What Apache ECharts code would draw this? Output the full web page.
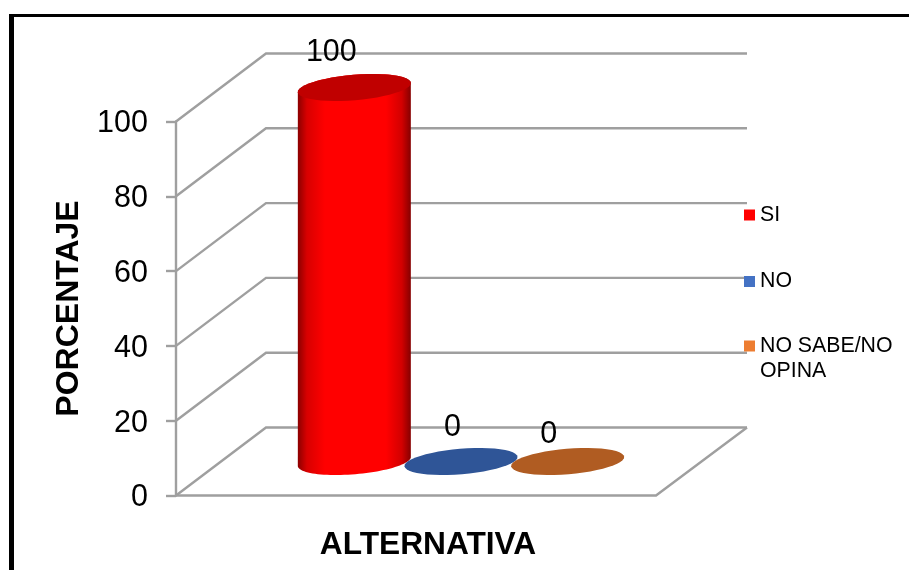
<!DOCTYPE html>
<html>
<head>
<meta charset="utf-8">
<style>html,body{margin:0;padding:0;background:#fff}#c{width:909px;height:570px}</style>
<script src="https://cdn.jsdelivr.net/npm/echarts@6/dist/echarts.min.js"></script>
</head>
<body>
<div id="c"></div>
<script>
const categories = ['SI', 'NO', 'NO SABE/NO OPINA'];
const values = [100, 0, 0];
const yTicks = [0, 20, 40, 60, 80, 100];
const yTitle = 'PORCENTAJE';
const xTitle = 'ALTERNATIVA';
const legendColors = ['#ff0000', '#4472c4', '#ed7d31'];
const capColors = ['#c00000', '#2f5597', '#b05c22'];
const labelOffsets = [[-23, -34.5], [-8.5, -34], [-19, -26.5]];
const legendTops = [202.5, 269, 308.5];
const legendLabels = ['SI', 'NO', '\nNO SABE/NO\nOPINA'];

const FONT = '"Liberation Sans", Arial, sans-serif';
const GRID_COLOR = '#9f9f9f';
const DEPTH_X = 90, DEPTH_Y = 68, LEFT_X = 176, FRONT_RIGHT = 656, BACK_RIGHT = 747;
const A = 56.7, B = 12.7, TILT = 4.8 * Math.PI / 180;

function ellipsePoint(cx, cy, t) {
  const ex = A * Math.cos(t), ey = B * Math.sin(t);
  return [cx + ex * Math.cos(TILT) - ey * Math.sin(TILT),
          cy - ex * Math.sin(TILT) - ey * Math.cos(TILT)];
}
function arc(cx, cy, from, to) {
  const pts = [];
  for (let i = 0; i <= 48; i++) pts.push(ellipsePoint(cx, cy, from + (to - from) * i / 48));
  return pts;
}

const chart = echarts.init(document.getElementById('c'), null, { renderer: 'canvas' });

const gridSeries = {
  type: 'custom', name: 'walls', silent: true, z: 1,
  data: yTicks.map(t => [0, t]),
  renderItem: (params, api) => {
    const y = api.coord([0, api.value(1)])[1];
    const children = [{
      type: 'polyline',
      shape: { points: [[LEFT_X, y], [LEFT_X + DEPTH_X, y - DEPTH_Y], [BACK_RIGHT, y - DEPTH_Y]] },
      style: { stroke: GRID_COLOR, lineWidth: 2.4, fill: null }
    }];
    if (api.value(1) === 0) {
      children.push({
        type: 'polyline',
        shape: { points: [[LEFT_X, y], [FRONT_RIGHT, y], [BACK_RIGHT, y - DEPTH_Y]] },
        style: { stroke: GRID_COLOR, lineWidth: 2.4, fill: null }
      });
    }
    return { type: 'group', children };
  }
};

const barSeries = categories.map((name, i) => ({
  type: 'custom', name, z: 3,
  itemStyle: { color: legendColors[i] },
  data: [[i, values[i]]],
  renderItem: (params, api) => {
    const base = api.coord([api.value(0), 0]);
    const top = api.coord([api.value(0), api.value(1)]);
    const cx = top[0], yBase = base[1] - DEPTH_Y / 2, yTop = top[1] - DEPTH_Y / 2;
    const children = [];
    if (api.value(1) > 0) {
      children.push({
        type: 'polygon',
        shape: { points: arc(cx, yBase, Math.PI, 2 * Math.PI).concat(arc(cx, yTop, 0, Math.PI)) },
        style: {
          fill: new echarts.graphic.LinearGradient(0, 0, 1, 0, [
            { offset: 0, color: '#8c0000' },
            { offset: 0.08, color: '#d80000' },
            { offset: 0.24, color: '#ff0000' },
            { offset: 0.78, color: '#ff0000' },
            { offset: 0.92, color: '#d20000' },
            { offset: 1, color: '#850000' }
          ])
        }
      });
    }
    children.push({
      type: 'polygon',
      shape: { points: arc(cx, yTop, 0, 2 * Math.PI) },
      style: { fill: capColors[params.seriesIndex - 1] }
    });
    children.push({
      type: 'text',
      style: {
        x: cx + labelOffsets[params.seriesIndex - 1][0],
        y: yTop + labelOffsets[params.seriesIndex - 1][1],
        text: String(api.value(1)),
        font: '30.5px ' + FONT, fill: '#000',
        align: 'center', verticalAlign: 'middle'
      }
    });
    return { type: 'group', children };
  }
}));

chart.setOption({
  animation: false,
  backgroundColor: '#fff',
  textStyle: { fontFamily: FONT },
  grid: { left: 301, width: 320, top: 121.5, height: 374 },
  xAxis: {
    type: 'category', data: categories,
    axisLine: { show: false }, axisTick: { show: false }, axisLabel: { show: false },
    name: xTitle, nameLocation: 'middle', nameGap: 32,
    nameTextStyle: { fontFamily: FONT, fontSize: 31.7, fontWeight: 'bold', color: '#000', padding: [0, 66, 0, 0], lineHeight: 36 }
  },
  yAxis: {
    type: 'value', min: 0, max: 100, interval: 20, position: 'left', offset: 125,
    axisLine: { show: true, lineStyle: { color: GRID_COLOR, width: 2.4 } },
    axisTick: { show: true, length: 10, lineStyle: { color: GRID_COLOR, width: 2.4 } },
    axisLabel: {
      margin: 28, formatter: '{t|{value}}',
      rich: { t: { fontFamily: FONT, fontSize: 30.5, color: '#000', padding: [5, 0, 0, 0] } }
    },
    splitLine: { show: false },
    name: yTitle, nameLocation: 'middle', nameGap: 91, nameRotate: 90,
    nameTextStyle: { fontFamily: FONT, fontSize: 32, fontWeight: 'bold', color: '#000' }
  },
  legend: categories.map((name, i) => ({
    data: [name], left: 744, top: legendTops[i], padding: 0,
    orient: 'vertical', icon: 'rect', itemWidth: 11, itemHeight: 11, itemGap: 0,
    selectedMode: false,
    formatter: () => legendLabels[i],
    textStyle: { fontFamily: FONT, fontSize: 21.3, color: '#000', lineHeight: 25, padding: [0, 0, 0, 0] }
  })),
  graphic: [
    { type: 'rect', shape: { x: 9, y: 14, width: 5, height: 556 }, style: { fill: '#000' }, silent: true },
    { type: 'rect', shape: { x: 9, y: 14, width: 900, height: 3 }, style: { fill: '#000' }, silent: true }
  ],
  series: [gridSeries].concat(barSeries)
});
</script>
</body>
</html>
